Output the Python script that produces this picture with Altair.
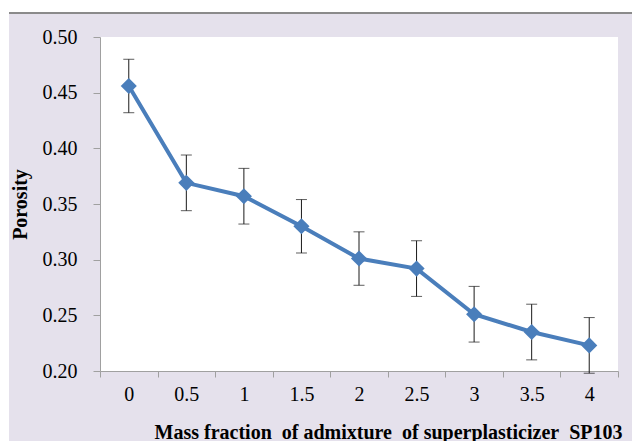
import altair as alt
import pandas as pd

categories = ["0", "0.5", "1", "1.5", "2", "2.5", "3", "3.5", "4"]
porosity = [0.456, 0.369, 0.357, 0.330, 0.301, 0.292, 0.251, 0.235, 0.223]
error = [0.024, 0.025, 0.025, 0.024, 0.024, 0.025, 0.025, 0.025, 0.025]

df = pd.DataFrame({"cat": categories, "p": porosity, "e": error})
df["lo"] = df["p"] - df["e"]
df["hi"] = df["p"] + df["e"]

FONT = "Liberation Serif"
BLUE = "#4A7EBB"
NB = "\u00a0"
x_title = f"Mass{NB}fraction{NB}{NB}of{NB}admixture{NB}{NB}of{NB}superplasticizer{NB}{NB}SP103"

x = alt.X("cat:O", sort=categories,
          axis=alt.Axis(title=x_title,
                        labelAngle=0, tickBand="extent", tickSize=6, labelPadding=7,
                        domainColor="#A0A0A0", tickColor="#A0A0A0",
                        titleAnchor="end", titleAlign="right", titleX=522, titleY=67,
                        titleBaseline="alphabetic"))
y = alt.Y("p:Q", scale=alt.Scale(domain=[0.2, 0.5], nice=False, zero=False),
          axis=alt.Axis(title="Porosity", values=[0.2, 0.25, 0.3, 0.35, 0.4, 0.45, 0.5],
                        format=".2f", tickSize=7, labelPadding=16, grid=False,
                        domainColor="#A0A0A0", tickColor="#A0A0A0",
                        titleX=-70, titleY=167, titleAngle=270))

base = alt.Chart(df)

line = base.mark_line(color=BLUE, strokeWidth=4).encode(x=x, y=y)
pts = base.mark_point(shape="diamond", filled=True, color=BLUE, size=260, opacity=1).encode(x=x, y=y)
rule = base.mark_rule(color="#1a1a1a", strokeWidth=1).encode(x=x, y="lo:Q", y2="hi:Q")
cap_hi = base.mark_tick(color="#1a1a1a", thickness=1, size=11).encode(x=x, y="hi:Q")
cap_lo = base.mark_tick(color="#1a1a1a", thickness=1, size=11).encode(x=x, y="lo:Q")

top_band = alt.Chart(df).mark_rect(color="white").encode(
    x=alt.value(-100), x2=alt.value(532), y=alt.value(-37), y2=alt.value(-24))
top_line = alt.Chart(df).mark_rule(color="#8a8a8a", strokeWidth=1).encode(
    x=alt.value(-91), x2=alt.value(532), y=alt.value(-24))
left_band = alt.Chart(df).mark_rect(color="white").encode(
    x=alt.value(-100), x2=alt.value(-91), y=alt.value(-37), y2=alt.value(404))

chart = alt.layer(top_band, left_band, top_line, line, rule, cap_hi, cap_lo, pts).properties(
    width=518, height=334,
    autosize=alt.AutoSizeParams(type="none"),
    padding={"left": 100, "top": 37, "right": 14, "bottom": 70},
    background="#E5E1EC",
).configure_view(fill="white", stroke=None).configure_axis(
    labelFont=FONT, titleFont=FONT, labelFontSize=20, labelColor="black",
    titleFontSize=20, titleFontWeight="bold", titleColor="black",
)

chart.save("out.html", embed_options={"renderer": "svg", "actions": False})
